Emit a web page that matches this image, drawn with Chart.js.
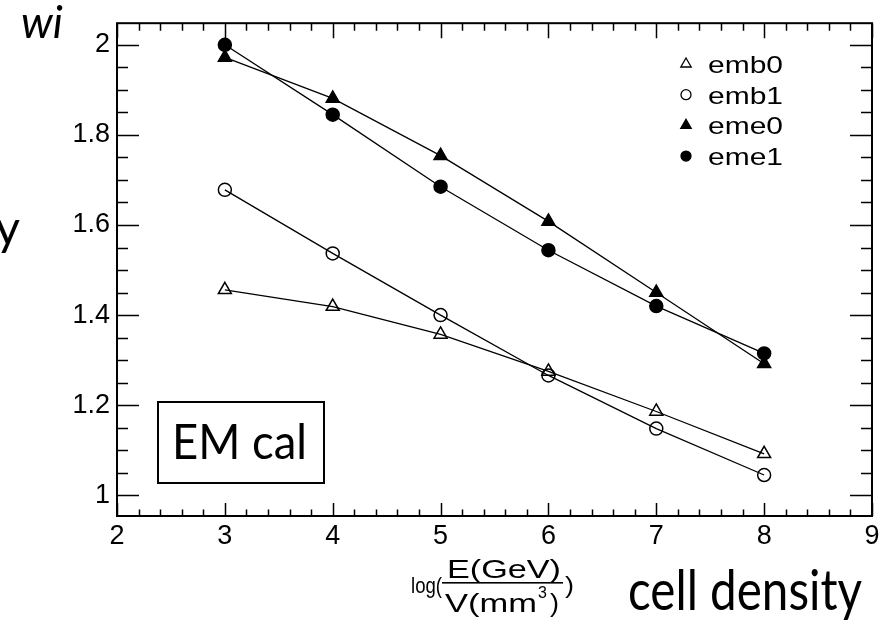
<!DOCTYPE html>
<html>
<head>
<meta charset="utf-8">
<script src="https://cdn.jsdelivr.net/npm/chart.js@4.4.1/dist/chart.umd.min.js"></script>
<style>
  html, body { margin: 0; padding: 0; background: #fff; }
  #wrap { width: 886px; height: 620px; }
</style>
</head>
<body>
<div id="wrap"><canvas id="wChart" width="886" height="620"></canvas></div>
<script>
// weights per cell-density bin
const densityBins = [3, 4, 5, 6, 7, 8];
const emb0 = [1.456, 1.419, 1.357, 1.275, 1.186, 1.092];
const emb1 = [1.678, 1.537, 1.400, 1.266, 1.148, 1.045];
const eme0 = [1.972, 1.881, 1.754, 1.608, 1.450, 1.292];
const eme1 = [2.000, 1.845, 1.685, 1.544, 1.420, 1.315];
const seriesNames = ['emb0', 'emb1', 'eme0', 'eme1'];
const xTicks = [2, 3, 4, 5, 6, 7, 8, 9];
const yTicks = [1, 1.2, 1.4, 1.6, 1.8, 2];

const SANS = '"Liberation Sans", Arial, sans-serif';
const HUMAN = 'Lato, "Noto Sans", sans-serif';

const markers = {
  emb0: { shape: 'triangle', filled: false },
  emb1: { shape: 'circle', filled: false },
  eme0: { shape: 'triangle', filled: true },
  eme1: { shape: 'circle', filled: true }
};

function toPoints(vals) {
  return densityBins.map((x, i) => ({ x: x, y: vals[i] }));
}

function makeSet(name, vals) {
  const m = markers[name];
  return {
    label: name,
    data: toPoints(vals),
    showLine: true,
    borderColor: '#000',
    borderWidth: 1.3,
    pointStyle: m.shape,
    pointRadius: m.shape === 'triangle' ? 7.5 : 6.5,
    pointBorderWidth: 1.5,
    pointBorderColor: '#000',
    pointBackgroundColor: m.filled ? '#000' : 'rgba(0,0,0,0)',
    pointHoverRadius: 7
  };
}

function drawMarker(ctx, shape, filled, x, y, r) {
  ctx.beginPath();
  if (shape === 'circle') {
    ctx.arc(x, y, r, 0, Math.PI * 2);
  } else {
    const h = r * Math.sqrt(3) / 2;
    ctx.moveTo(x, y - r);
    ctx.lineTo(x + h, y + r / 2);
    ctx.lineTo(x - h, y + r / 2);
    ctx.closePath();
  }
  if (filled) { ctx.fillStyle = '#000'; ctx.fill(); }
  ctx.lineWidth = 1.3;
  ctx.strokeStyle = '#000';
  ctx.stroke();
}

// text squeezed/stretched to a given width
function fitText(ctx, text, x, y, w) {
  const m = ctx.measureText(text).width;
  ctx.save();
  ctx.translate(x, y);
  ctx.scale(w / m, 1);
  ctx.fillText(text, 0, 0);
  ctx.restore();
}

// frame with inward ticks on all four sides, like a ROOT canvas
const framePlugin = {
  id: 'frame',
  afterDatasetsDraw(chart) {
    const ctx = chart.ctx;
    const { left, right, top, bottom } = chart.chartArea;
    const xs = chart.scales.x, ys = chart.scales.y;
    ctx.save();
    ctx.strokeStyle = '#000';
    ctx.lineWidth = 2;
    ctx.strokeRect(left, top, right - left, bottom - top);
    ctx.lineWidth = 1.5;
    ctx.beginPath();
    for (let i = 0; i < xTicks.length; i++) {
      const v = xTicks[i];
      const px = Math.round(xs.getPixelForValue(v)) + 0.5;
      ctx.moveTo(px, bottom); ctx.lineTo(px, bottom - 13);
      ctx.moveTo(px, top); ctx.lineTo(px, top + 15);
      if (i < xTicks.length - 1) {
        const step = (xTicks[i + 1] - v) / 5;
        for (let k = 1; k < 5; k++) {
          const mx = Math.round(xs.getPixelForValue(v + k * step)) + 0.5;
          ctx.moveTo(mx, bottom); ctx.lineTo(mx, bottom - 6.5);
          ctx.moveTo(mx, top); ctx.lineTo(mx, top + 7.5);
        }
      }
    }
    for (let v = 0.95; v <= ys.max + 1e-9; v += 0.05) {
      if (v < ys.min) continue;
      const py = Math.round(ys.getPixelForValue(v)) + 0.5;
      const major = yTicks.some(t => Math.abs(t - v) < 1e-6);
      const len = major ? 22 : 11;
      ctx.moveTo(left, py); ctx.lineTo(left + len, py);
      ctx.moveTo(right, py); ctx.lineTo(right - len, py);
    }
    ctx.stroke();
    ctx.restore();
  },
  afterDraw(chart) {
    const ctx = chart.ctx;
    ctx.save();
    ctx.fillStyle = '#000';
    ctx.textBaseline = 'alphabetic';
    ctx.textAlign = 'left';

    // legend
    ctx.font = '24px ' + SANS;
    seriesNames.forEach((name, i) => {
      const y = 65 + i * 30.7;
      const m = markers[name];
      drawMarker(ctx, m.shape, m.filled, 686, y - 1, m.shape === 'triangle' ? 6 : 5);
      fitText(ctx, name, 708, y + 8, 75);
    });

    // y title
    ctx.font = 'italic 44px ' + HUMAN;
    ctx.fillText('wi', 21, 38);
    ctx.font = '48px ' + HUMAN;
    ctx.textAlign = 'right';
    ctx.fillText('y', 20, 245);
    ctx.textAlign = 'left';

    // x title: log(E(GeV)/V(mm^3))
    ctx.font = '22px ' + SANS;
    fitText(ctx, 'log(', 411, 593, 31);
    ctx.font = '26px ' + SANS;
    fitText(ctx, 'E(GeV)', 447, 578, 114);
    fitText(ctx, 'V(mm', 445, 612, 92);
    fitText(ctx, ')', 550, 612, 9);
    ctx.font = '16px ' + SANS;
    ctx.fillText('3', 538, 598);
    ctx.font = '24px ' + SANS;
    fitText(ctx, ')', 565, 593, 9);
    ctx.fillRect(442, 582, 121, 1.6);

    ctx.font = '56px ' + HUMAN;
    fitText(ctx, 'cell density', 628, 610, 234);

    // EM cal label box
    ctx.lineWidth = 2;
    ctx.strokeStyle = '#000';
    ctx.strokeRect(158, 402, 166, 81);
    ctx.font = '48px ' + HUMAN;
    fitText(ctx, 'EM cal', 172, 459, 135);
    ctx.restore();
  }
};

const ctx = document.getElementById('wChart').getContext('2d');
new Chart(ctx, {
  type: 'scatter',
  data: {
    datasets: [
      makeSet('emb0', emb0),
      makeSet('emb1', emb1),
      makeSet('eme0', eme0),
      makeSet('eme1', eme1)
    ]
  },
  options: {
    responsive: false,
    animation: false,
    layout: { padding: { top: 11, right: 14, left: 0, bottom: 0 } },
    plugins: { legend: { display: false }, tooltip: { enabled: false } },
    scales: {
      x: {
        type: 'linear',
        min: 2,
        max: 9,
        grid: { display: false, drawTicks: false },
        border: { display: false },
        afterBuildTicks: axis => { axis.ticks = xTicks.map(v => ({ value: v })); },
        afterFit: axis => { axis.height = 104; },
        ticks: {
          color: '#000',
          padding: 4,
          maxRotation: 0,
          font: { family: SANS, size: 27 },
          callback: v => String(v)
        }
      },
      y: {
        type: 'linear',
        min: 0.954,
        max: 2.048,
        grid: { display: false, drawTicks: false },
        border: { display: false },
        afterBuildTicks: axis => { axis.ticks = yTicks.map(v => ({ value: v })); },
        afterFit: axis => { axis.width = 117; },
        ticks: {
          color: '#000',
          padding: 7,
          font: { family: SANS, size: 27 },
          callback: v => String(Math.round(v * 10) / 10)
        }
      }
    }
  },
  plugins: [framePlugin]
});
</script>
</body>
</html>
